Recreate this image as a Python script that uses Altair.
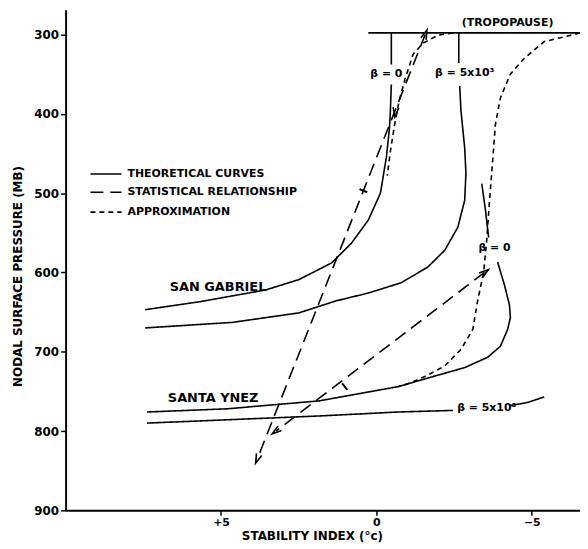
import altair as alt
import pandas as pd

# ---------------- data (stability index in deg C, pressure in mb) ----------------
# Theoretical curves (solid)
trop_x = [0.26, -6.55]
trop_p = [298, 298]

sg_b0_top_x = [-0.48, -0.48]
sg_b0_top_p = [298, 338]
sg_b0_x = [-0.48, -0.45, -0.42, -0.32, -0.13, 0.26, 0.80, 1.44, 2.49, 3.55, 5.69, 7.44]
sg_b0_p = [363, 396, 418, 455, 500, 534, 563, 588, 609, 622, 637, 647]

sg_b5_top_x = [-2.65, -2.65]
sg_b5_top_p = [298, 336]
sg_b5_x = [-2.68, -2.72, -2.84, -2.88, -2.84, -2.62, -2.20, -1.66, -0.80, 0.26, 1.31, 2.49, 4.63, 7.44]
sg_b5_p = [365, 396, 443, 475, 509, 543, 572, 593, 613, 626, 636, 651, 663, 670]

sy_b0_top_x = [-3.39, -3.51, -3.61]
sy_b0_top_p = [488, 522, 556]
sy_b0_x = [-3.90, -4.12, -4.28, -4.31, -4.22, -3.99, -3.58, -2.84, -1.76, -0.70, 1.85, 4.82, 7.38]
sy_b0_p = [587, 616, 641, 657, 672, 693, 707, 720, 732, 744, 762, 772, 776]

sy_b5_left_x = [7.38, 1.85, -0.70, -2.46]
sy_b5_left_p = [790, 781, 776, 774]
sy_b5_right_x = [-4.28, -4.86, -5.40]
sy_b5_right_p = [768, 764, 757]

# Statistical relationship (long dash)
sg_stat_x = [-1.57, 3.83]
sg_stat_p = [300, 835]
sy_stat_x = [-3.48, 3.23]
sy_stat_p = [600, 800]

# Approximation (short dash)
sg_apx_x = [-2.46, -1.98, -1.50, -1.18, -0.93, -0.73, -0.58, -0.45, -0.35]
sg_apx_p = [298, 301, 311, 325, 355, 384, 415, 447, 478]
sy_apx_x = [-6.55, -6.36, -5.40, -4.76, -4.31, -3.99, -3.83, -3.74, -3.64, -3.55,
            -3.45, -3.26, -3.10, -2.72, -2.20, -1.57, -1.12, -0.70]
sy_apx_p = [298, 300, 309, 330, 350, 380, 413, 459, 509, 559,
            600, 635, 672, 697, 718, 731, 739, 744]

# Arrow heads (position, direction in degrees clockwise from up)
arrow_x = [-1.57, 3.83, -3.48, 3.23, -0.61]
arrow_p = [300, 835, 600, 800, 398]
arrow_ang = [21.6, 201.6, 52.7, 232.7, 187]

# Cross-bars on statistical lines
bar_x = [0.42, 1.02]
bar_p = [497, 744]
bar_ang = [21.6, 52.7]

# Text labels
lab_text = ["SAN  GABRIEL", "SANTA  YNEZ", "β = 0", "β = 5x10³", "(TROPOPAUSE)", "β = 0", "β = 5x10³"]
lab_x = [6.65, 6.71, -0.32, -2.84, -4.22, -3.80, -3.55]
lab_p = [619, 758, 350, 349, 286, 569, 771]
lab_align = ["left", "left", "center", "center", "center", "center", "center"]
lab_size = [13, 13, 11, 11, 11, 11, 11]

# Legend
leg_text = ["THEORETICAL  CURVES", "STATISTICAL  RELATIONSHIP", "APPROXIMATION"]
leg_style = ["solid", "long", "short"]
leg_x1 = [9.2, 9.2, 9.2]
leg_x2 = [8.2, 8.2, 8.2]
leg_p = [476, 499, 524]

# ---------------- build tables ----------------
def seg(name, style, xs, ps):
    return [{"seg": name, "style": style, "i": i, "x": x, "p": p} for i, (x, p) in enumerate(zip(xs, ps))]

rows = []
rows += seg("trop", "solid", trop_x, trop_p)
rows += seg("sg_b0_top", "solid", sg_b0_top_x, sg_b0_top_p)
rows += seg("sg_b0", "solid", sg_b0_x, sg_b0_p)
rows += seg("sg_b5_top", "solid", sg_b5_top_x, sg_b5_top_p)
rows += seg("sg_b5", "solid", sg_b5_x, sg_b5_p)
rows += seg("sy_b0_top", "solid", sy_b0_top_x, sy_b0_top_p)
rows += seg("sy_b0", "solid", sy_b0_x, sy_b0_p)
rows += seg("sy_b5_l", "solid", sy_b5_left_x, sy_b5_left_p)
rows += seg("sy_b5_r", "solid", sy_b5_right_x, sy_b5_right_p)
rows += seg("sg_stat", "long", sg_stat_x, sg_stat_p)
rows += seg("sy_stat", "long", sy_stat_x, sy_stat_p)
rows += seg("sg_apx", "short", sg_apx_x, sg_apx_p)
rows += seg("sy_apx", "short", sy_apx_x, sy_apx_p)
df = pd.DataFrame(rows)

arrows = pd.DataFrame({"x": arrow_x, "p": arrow_p, "ang": arrow_ang})
bars = pd.DataFrame({"x": bar_x, "p": bar_p, "ang": bar_ang})
labels = pd.DataFrame({"t": lab_text, "x": lab_x, "p": lab_p, "al": lab_align, "fs": lab_size})
legend = pd.DataFrame({"t": leg_text, "style": leg_style, "x1": leg_x1, "x2": leg_x2, "p": leg_p})

FONT = "DejaVu Sans"

xscale = alt.Scale(domain=[-6.55, 10], reverse=True, nice=False, zero=False)
yscale = alt.Scale(domain=[269, 900], reverse=True, nice=False, zero=False)

X = alt.X("x:Q", scale=xscale,
          axis=alt.Axis(values=[5, 0, -5], title="STABILITY   INDEX  (°c)",
                        labelExpr="datum.value > 0 ? '+' + datum.value : (datum.value < 0 ? '−' + abs(datum.value) : '0')",
                        titlePadding=3, labelPadding=1, labelFontSize=11, titleX=248))
Y = alt.Y("p:Q", scale=yscale,
          axis=alt.Axis(values=[300, 400, 500, 600, 700, 800, 900], title="NODAL   SURFACE   PRESSURE   (MB)",
                        titlePadding=9, labelPadding=2, titleY=268))

dash_map = alt.Scale(domain=["solid", "long", "short"], range=[[1, 0], [13, 7], [5, 4]])

lines = alt.Chart(df).mark_line(color="black", strokeWidth=1.6, clip=True).encode(
    x=X, y=Y, detail="seg:N", order="i:Q",
    strokeDash=alt.StrokeDash("style:N", scale=dash_map, legend=None),
)

arrow_pts = alt.Chart(arrows).mark_point(
    shape="M-0.6,1L0,-1L0.6,1", filled=False, color="black", strokeWidth=1.6, size=90, opacity=1
).encode(x="x:Q", y="p:Q", angle=alt.Angle("ang:Q", scale=None))

bar_pts = alt.Chart(bars).mark_point(
    shape="M-1,0L1,0", filled=False, color="black", strokeWidth=2, size=70, opacity=1
).encode(x="x:Q", y="p:Q", angle=alt.Angle("ang:Q", scale=None))

text_left = alt.Chart(labels[labels.al == "left"]).mark_text(
    align="left", baseline="middle", font=FONT, fontWeight="bold", color="black"
).encode(x="x:Q", y="p:Q", text="t:N", size=alt.Size("fs:Q", scale=None, legend=None))

text_center = alt.Chart(labels[labels.al == "center"]).mark_text(
    align="center", baseline="middle", font=FONT, fontWeight="bold", color="black"
).encode(x="x:Q", y="p:Q", text="t:N", size=alt.Size("fs:Q", scale=None, legend=None))

leg_lines = alt.Chart(legend).mark_rule(color="black", strokeWidth=1.6).encode(
    x="x1:Q", x2="x2:Q", y="p:Q",
    strokeDash=alt.StrokeDash("style:N", scale=dash_map, legend=None),
)
leg_text = alt.Chart(legend).mark_text(
    align="left", baseline="middle", font=FONT, fontWeight="bold", fontSize=11, color="black", dx=6
).encode(x="x2:Q", y="p:Q", text="t:N")

chart = alt.layer(lines, arrow_pts, bar_pts, text_left, text_center, leg_lines, leg_text).properties(
    width=518, height=504,
    autosize=alt.AutoSizeParams(type="none"),
    padding={"left": 58, "top": 0, "right": 0, "bottom": 33},
).configure_view(stroke=None).configure_axis(
    domainColor="black", domainWidth=2, tickColor="black", tickWidth=1.5, tickSize=5,
    labelFont=FONT, labelFontSize=12, labelFontWeight="bold", labelColor="black",
    titleFont=FONT, titleFontSize=12, titleFontWeight="bold", titleColor="black", grid=False,
)

chart.save("out.html", embed_options={"renderer": "svg", "actions": False})
